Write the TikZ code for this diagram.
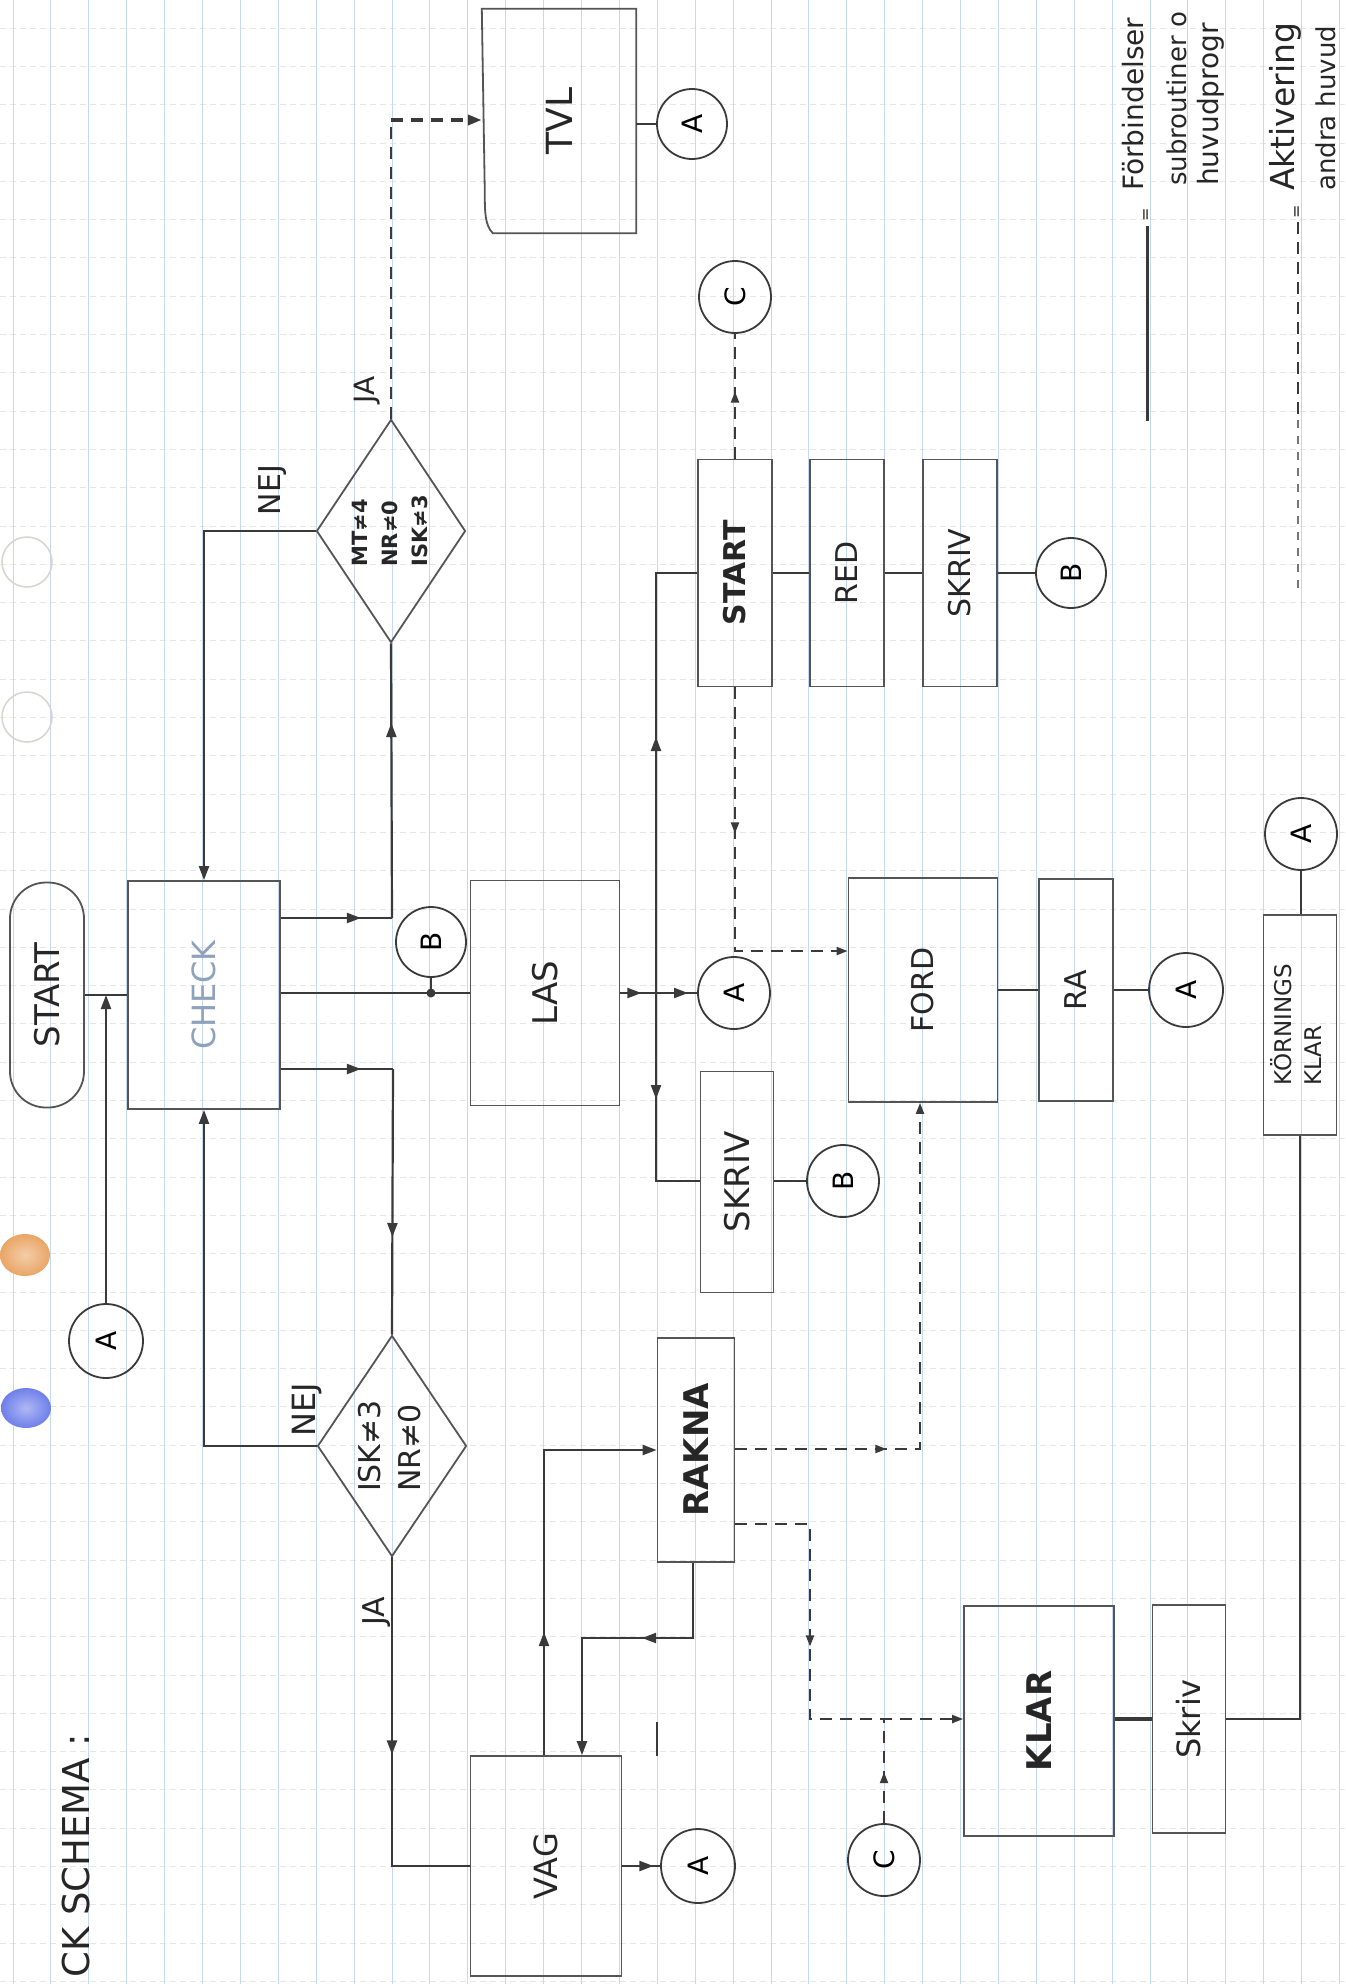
\documentclass[tikz,border=0pt]{standalone}
\usepackage{fontspec}
\usepackage{graphicx}
\setmainfont{DejaVu Sans}
\usetikzlibrary{arrows.meta,decorations.markings,shapes.geometric}
\definecolor{lc}{HTML}{3A3A3A}
\definecolor{bc}{HTML}{555555}
\definecolor{gridb}{HTML}{C4D8F2}
\definecolor{gridg}{HTML}{E6E6E6}
\definecolor{chk}{HTML}{8FA2BC}
\definecolor{orng}{HTML}{E9A565}
\definecolor{blu}{HTML}{6E7FEA}
\definecolor{ring}{HTML}{D6D6D0}
\newcommand\rot[1]{\rotatebox{90}{#1}}
\begin{document}
\begin{tikzpicture}[x=1pt,y=-1pt,
  >={Triangle[length=14pt,width=10pt]},
  ln/.style={draw=lc,line width=2.2pt},
  dln/.style={draw=lc,line width=2pt,dash pattern=on 12pt off 8pt},
  bx/.style={draw=bc,line width=1.8pt,inner sep=0pt,text=black!85},
  cir/.style={circle,draw=lc,line width=1.8pt,minimum size=72pt,inner sep=0pt,font=\fontsize{28}{30}\selectfont},
  dia/.style={diamond,draw=bc,line width=1.8pt,inner sep=0pt,aspect=0.67},
  marr/.style={postaction={decorate},decoration={markings,mark=at position #1 with {\arrow{>}}}},
  sm/.style={>={Triangle[length=11pt,width=8pt]}},
  fs/.style 2 args={font=\fontsize{#1}{#2}\selectfont},
  lbl/.style={inner sep=0pt,text=black!85}]
\fill[white] (0,0) rectangle (1345,1984);
\useasboundingbox (0,0) rectangle (1345,1984);
% paper grid
\foreach \k in {0,...,51} \draw[gridg,line width=0.8pt,dash pattern=on 6pt off 4pt] (0,{28+38.3*\k}) -- (1345,{28+38.3*\k});
\foreach \k in {0,...,35} \draw[gridb,line width=1pt] ({13+37.9*\k},0) -- ({13+37.9*\k},1984);
% paper marks
\draw[ring,line width=1.5pt] (27,562) circle (25);
\draw[ring,line width=1.5pt] (27,717) circle (25);
\shade[inner color=orng!55,outer color=orng] (25,1255) ellipse (25 and 21);
\shade[inner color=blu!55,outer color=blu] (26,1408) ellipse (25 and 20);

% ---------- nodes ----------
\node[bx,rounded corners=36pt,minimum width=74pt,minimum height=225pt,fs={34}{36}] (start) at (47,995) {\rot{START}};
\node[bx,minimum width=152pt,minimum height=228pt,fs={32}{34},text=chk] (check) at (204,995) {\rot{CHECK}};
\node[bx,minimum width=149pt,minimum height=225pt,fs={34}{36}] (las) at (545,993) {\rot{LAS}};
\node[dia,minimum width=149pt,minimum height=223pt,fs={21}{30},text=black!85] (d1) at (391,531) {\rot{\bfseries\begin{tabular}{@{}l@{}}MT≠4\\NR≠0\\ISK≠3\end{tabular}}};
\node[dia,minimum width=149pt,minimum height=221pt,fs={30}{40},text=black!85] (d2) at (392,1446) {\rot{\begin{tabular}{@{}l@{}}ISK≠3\\NR≠0\end{tabular}}};
\node[bx,minimum width=151pt,minimum height=220pt,fs={32}{34}] (vag) at (546,1866) {\rot{VAG}};
\node[bx,minimum width=77pt,minimum height=224pt,fs={34}{36}] (rakna) at (696,1450) {\rot{\bfseries RAKNA}};
\node[bx,minimum width=74pt,minimum height=227pt,fs={30}{32}] (start2) at (735,573) {\rot{\bfseries START}};
\node[bx,minimum width=74pt,minimum height=227pt,fs={30}{32}] (red) at (847,573) {\rot{RED}};
\node[bx,minimum width=74pt,minimum height=227pt,fs={30}{32}] (skriv1) at (960,573) {\rot{SKRIV}};
\node[bx,minimum width=149pt,minimum height=224pt,fs={30}{32}] (ford) at (923,990) {\rot{FORD}};
\node[bx,minimum width=74pt,minimum height=222pt,fs={30}{32}] (ra) at (1076,990) {\rot{RA}};
\node[bx,minimum width=73pt,minimum height=220pt,fs={23}{30}] (korn) at (1300,1025) {\rot{\begin{tabular}{@{}l@{}}KÖRNINGS\\KLAR\end{tabular}}};
\node[bx,minimum width=73pt,minimum height=221pt,fs={34}{36}] (skriv2) at (737,1182) {\rot{SKRIV}};
\node[bx,minimum width=150pt,minimum height=230pt,fs={34}{36}] (klar) at (1039,1721) {\rot{\bfseries KLAR}};
\node[bx,minimum width=73pt,minimum height=228pt,fs={32}{34}] (skriv3) at (1189,1719) {\rot{Skriv}};
\node[inner sep=0pt,minimum width=154pt,minimum height=224pt,fs={36}{38},text=black!85] (tvl) at (559,121) {\rot{TVL}};
\draw[bx] (tvl.north west) -- (tvl.north east) -- (tvl.south east) -- ([xshift=11pt]tvl.south west)
  .. controls ([xshift=3pt,yshift=8pt]tvl.south west) and ([xshift=3pt,yshift=22pt]tvl.south west) .. ([xshift=3pt,yshift=40pt]tvl.south west) -- cycle;

% connector circles
\node[cir,minimum size=70pt] (cA1) at (692,124) {\rot{A}};
\node[cir] (cC1) at (735,297) {\rot{C}};
\node[cir,minimum size=70pt] (cB1) at (1071,573) {\rot{B}};
\node[cir,minimum size=70pt] (cB2) at (431,942) {\rot{B}};
\node[cir] (cA2) at (734,993) {\rot{A}};
\node[cir,minimum size=74pt] (cA3) at (1186,990) {\rot{A}};
\node[cir] (cA4) at (1301,834) {\rot{A}};
\node[cir] (cB3) at (843,1181) {\rot{B}};
\node[cir,minimum size=74pt] (cA5) at (106,1341) {\rot{A}};
\node[cir,minimum size=74pt] (cA6) at (698,1866) {\rot{A}};
\node[cir] (cC2) at (884,1860) {\rot{C}};

% labels
\node[lbl,fs={30}{32}] (nej1) at (273,490) {\rot{NEJ}};
\node[lbl,fs={28}{30}] (ja1) at (367,390) {\rot{JA}};
\node[lbl,fs={32}{34}] (nej2) at (307,1410) {\rot{NEJ}};
\node[lbl,fs={30}{32}] (ja2) at (377,1611) {\rot{JA}};
\node[lbl,anchor=south,fs={37}{40}] (title) at (76,1978) {\rot{CK SCHEMA :}};

% legend
\node[lbl,anchor=south,fs={28}{30}] (lt1) at (1133,191) {\rot{Förbindelser}};
\node[lbl,anchor=south,fs={26}{28}] (lt2) at (1177,186) {\rot{subroutiner o}};
\node[lbl,anchor=south,fs={28}{30}] (lt3) at (1211,186) {\rot{huvudprogr}};
\node[lbl,anchor=south,fs={33}{35}] (lt4) at (1285,191) {\rot{Aktivering}};
\node[lbl,anchor=south,fs={26}{28}] (lt5) at (1326,191) {\rot{andra huvud}};
\node[lbl,fs={16}{18}] (le1) at (1147,215) {\rot{=}};
\node[lbl,fs={16}{18}] (le2) at (1298,212) {\rot{=}};
\coordinate (ls1) at (1147,226);
\coordinate (ls2) at (1147,421);
\coordinate (ld1) at (1298,222);
\coordinate (ld2) at (1298,420);
\coordinate (ld3) at (1298,595);
\draw[ln,line width=3pt] (ls1) -- (ls2);
\draw[dln,line width=2.6pt] (ld1) -- (ld2);
\draw[dln,line width=1.2pt,draw=lc!70,dash pattern=on 8pt off 8pt] (ld2) -- (ld3);

% ---------- helper coordinates ----------
\coordinate (j0) at (106,995);
\coordinate (jc1) at (392,918);
\coordinate (jc3) at (393,1069);
\coordinate (dot) at (431,993);
\coordinate (ja1c) at (391,120);
\coordinate (jl) at (656,993);
\coordinate (jl1) at (656,573);
\coordinate (jl2) at (656,1181);
\coordinate (k1) at (1300,1719);
\coordinate (v1) at (544,1450);
\coordinate (r1) at (693,1638);
\coordinate (r2) at (582,1638);
\coordinate (st1) at (657,1722);
\coordinate (st2) at (657,1756);
\coordinate (s1) at (735,951);
\coordinate (rk1) at (920,1449);
\coordinate (rk2) at (810,1524);
\coordinate (rk3) at (810,1719);

% ---------- solid connectors ----------
\draw[ln] (start.east) -- (check.west);
\draw[ln,->] (cA5.north) -- (j0);
\draw[ln,marr=80pt] (check.east |- jc1) -- (jc1);
\draw[ln,marr=195pt] (jc1) -- (d1.south);
\draw[ln] (check.east |- dot) -- (las.west |- dot);
\fill[lc] (dot) circle (4.5);
\draw[ln] (cB2.south) -- (dot);
\draw[ln,marr=80pt] (check.east |- jc3) -- (jc3);
\draw[ln,marr=168pt] (jc3) -- (d2.north);
\draw[ln,->] (d1.west) -- (d1.west -| check.north) -- (check.north);
\draw[ln,->] (d2.west) -- (d2.west -| check.south) -- (check.south);
\draw[ln,marr=197pt] (d2.south) -- (d2.south |- vag.west) -- (vag.west);
\draw[ln,marr=21pt] (las.east |- jl) -- (jl);
\draw[ln,marr=32pt] (jl) -- (cA2.west);
\draw[ln,marr=256pt] (jl) -- (jl1) -- (start2.west |- jl1);
\draw[ln,marr=106pt] (jl) -- (jl2) -- (skriv2.west |- jl2);
\draw[ln] (start2.east) -- (red.west);
\draw[ln] (red.east) -- (skriv1.west);
\draw[ln] (skriv1.east) -- (cB1.west);
\draw[ln] (tvl.east |- cA1) -- (cA1.west);
\draw[ln] (skriv2.east |- cB3) -- (cB3.west);
\draw[ln] (ford.east) -- (ra.west);
\draw[ln] (ra.east) -- (cA3.west);
\draw[ln] (cA4.south) -- (korn.north -| cA4);
\draw[ln] (korn.south) -- (k1) -- (skriv3.east |- k1);
\draw[ln,line width=3.2pt] (klar.east |- k1) -- (skriv3.west |- k1);
\draw[ln,->,marr=123pt] (vag.north -| v1) -- (v1) -- (rakna.west |- v1);
\draw[ln,->,marr=126pt] (rakna.south -| r1) -- (r1) -- (r2) -- (r2 |- vag.north);
\draw[ln] (st1) -- (st2);
\draw[ln,marr=31pt] (vag.east |- cA6) -- (cA6.west);

% ---------- dashed connectors ----------
\draw[dln] (d1.north) -- (ja1c);
\draw[dln,line width=3.6pt,->] (ja1c) -- (tvl.west |- ja1c);
\draw[dln,sm,marr=67pt] (start2.north) -- (cC1.south);
\draw[dln,sm,->,marr=146pt] (start2.south) -- (s1) -- (ford.west |- s1);
\draw[dln,sm,->,marr=151pt] (rakna.east |- rk1) -- (rk1) -- (ford.south -| rk1);
\draw[dln,sm,->,marr=197pt] (rakna.east |- rk2) -- (rk2) -- (rk3) -- (klar.west |- rk3);
\draw[dln,sm,marr=51pt] (cC2.north) -- (cC2.north |- rk3);
\end{tikzpicture}
\end{document}
